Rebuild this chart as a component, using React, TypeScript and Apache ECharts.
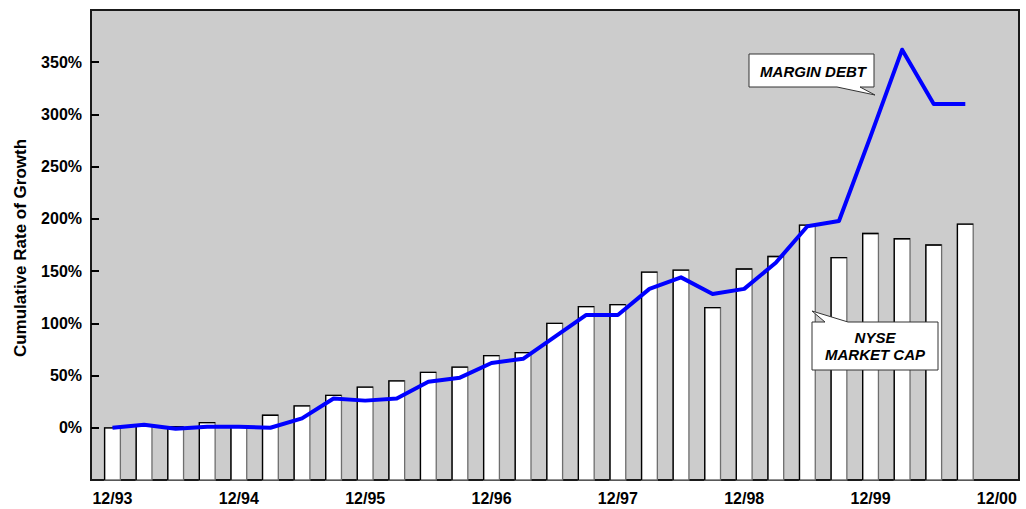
import React, { useEffect, useRef } from 'react';
import * as echarts from 'echarts';

const quarters = [
  '12/93', '3/94', '6/94', '9/94', '12/94', '3/95', '6/95', '9/95', '12/95', '3/96',
  '6/96', '9/96', '12/96', '3/97', '6/97', '9/97', '12/97', '3/98', '6/98', '9/98',
  '12/98', '3/99', '6/99', '9/99', '12/99', '3/00', '6/00', '9/00',
];
const nyseMarketCap = [
  0, 2, 1, 5, 2, 12, 21, 31, 39, 45, 53, 58, 69, 72, 100, 116, 118, 149, 151, 115,
  152, 164, 194, 163, 186, 181, 175, 195,
];
const marginDebt = [
  0, 3, -1, 1, 1, 0, 9, 28, 26, 28, 44, 48, 62, 66, 87, 108, 108, 133, 144, 128,
  133, 158, 193, 198, 279, 362, 310, 310,
];
const xTickPositions = [0, 4, 8, 12, 16, 20, 24, 28];
const xTickLabels = ['12/93', '12/94', '12/95', '12/96', '12/97', '12/98', '12/99', '12/00'];
const yTickValues = [0, 50, 100, 150, 200, 250, 300, 350];

const Y_MIN = -50;
const Y_MAX = 400;
const FONT = '"Liberation Sans", Arial, sans-serif';

export default function App() {
  const ref = useRef<HTMLDivElement>(null);

  useEffect(() => {
    if (!ref.current) return;
    const chart = echarts.init(ref.current, undefined, { renderer: 'svg' });

    const barData = nyseMarketCap.map((v, i) => [i, v, quarters[i]]);
    const lineData = marginDebt.map((v, i) => [i, v, quarters[i]]);

    const option: any = {
      animation: false,
      backgroundColor: '#ffffff',
      grid: {
        left: 91,
        right: 7,
        top: 10,
        bottom: 29,
        show: true,
        backgroundColor: '#cccccc',
        borderColor: '#1a1a1a',
        borderWidth: 2,
      },
      xAxis: {
        type: 'value',
        min: -0.68,
        max: 28.7,
        axisLine: { show: false, onZero: false },
        axisTick: { show: false },
        splitLine: { show: false },
        axisLabel: {
          customValues: xTickPositions,
          formatter: (v: number) => {
            const idx = xTickPositions.indexOf(Math.round(v));
            return idx >= 0 ? xTickLabels[idx] : '';
          },
          margin: 10,
          color: '#000',
          fontFamily: FONT,
          fontWeight: 'bold',
          fontSize: 16,
        },
      },
      yAxis: {
        type: 'value',
        min: Y_MIN,
        max: Y_MAX,
        interval: 50,
        name: 'Cumulative Rate of Growth',
        nameLocation: 'middle',
        nameGap: 62,
        nameTextStyle: {
          color: '#000',
          fontFamily: FONT,
          fontWeight: 'bold',
          fontSize: 17,
          padding: [0, 0, 0, -6],
        },
        axisLine: { show: false, onZero: false },
        splitLine: { show: false },
        axisTick: {
          show: true,
          inside: true,
          length: 8,
          customValues: yTickValues,
          lineStyle: { color: '#000', width: 2 },
        },
        axisLabel: {
          customValues: yTickValues,
          formatter: (v: number) => (v < 0 || v > 350 ? '' : v + '%'),
          margin: 9,
          color: '#000',
          fontFamily: FONT,
          fontWeight: 'bold',
          fontSize: 16,
        },
      },
      series: [
        {
          name: 'NYSE Market Cap',
          type: 'custom',
          data: barData,
          encode: { x: 0, y: 1 },
          z: 2,
          renderItem: (params: any, api: any) => {
            const x = api.value(0);
            const v = api.value(1);
            const top = api.coord([x, v]);
            const base = api.coord([x, Y_MIN]);
            const w = api.size([0.5, 0])[0];
            const left = top[0] - w / 2;
            const right = top[0] + w / 2;
            return {
              type: 'group',
              children: [
                {
                  type: 'rect',
                  shape: { x: left, y: top[1], width: w, height: base[1] - top[1] },
                  style: { fill: '#ffffff', stroke: '#6e6e6e', lineWidth: 1.3 },
                },
                {
                  type: 'polyline',
                  shape: { points: [[left, base[1]], [left, top[1]], [right, top[1]]] },
                  style: { fill: 'none', stroke: '#000000', lineWidth: 1.3 },
                },
              ],
            };
          },
        },
        {
          name: 'Margin Debt',
          type: 'line',
          data: lineData,
          encode: { x: 0, y: 1 },
          z: 3,
          showSymbol: false,
          symbol: 'none',
          lineStyle: { color: '#0000ff', width: 4, join: 'round' },
        },
      ],
      graphic: [
        {
          type: 'polygon',
          z: 10,
          shape: {
            points: [
              [749, 54], [874, 54], [874, 87], [860, 87], [875, 95], [837, 87], [749, 87],
            ],
          },
          style: { fill: '#ffffff', stroke: '#333333', lineWidth: 1 },
        },
        {
          type: 'text',
          z: 11,
          x: 813,
          y: 71,
          style: {
            text: 'MARGIN DEBT',
            fill: '#000',
            font: `italic bold 15px ${FONT}`,
            align: 'center',
            verticalAlign: 'middle',
          },
        },
        {
          type: 'polygon',
          z: 10,
          shape: {
            points: [
              [812, 322], [825, 322], [812, 311], [848, 322], [938, 322], [938, 370], [812, 370],
            ],
          },
          style: { fill: '#ffffff', stroke: '#333333', lineWidth: 1 },
        },
        {
          type: 'text',
          z: 11,
          x: 875,
          y: 337,
          style: {
            text: 'NYSE',
            fill: '#000',
            font: `italic bold 15px ${FONT}`,
            align: 'center',
            verticalAlign: 'middle',
          },
        },
        {
          type: 'text',
          z: 11,
          x: 875,
          y: 354,
          style: {
            text: 'MARKET CAP',
            fill: '#000',
            font: `italic bold 15px ${FONT}`,
            align: 'center',
            verticalAlign: 'middle',
          },
        },
      ],
    };

    chart.setOption(option);
    return () => chart.dispose();
  }, []);

  return (
    <div
      ref={ref}
      style={{ position: 'fixed', left: 0, top: 0, width: 1026, height: 509 }}
    />
  );
}
